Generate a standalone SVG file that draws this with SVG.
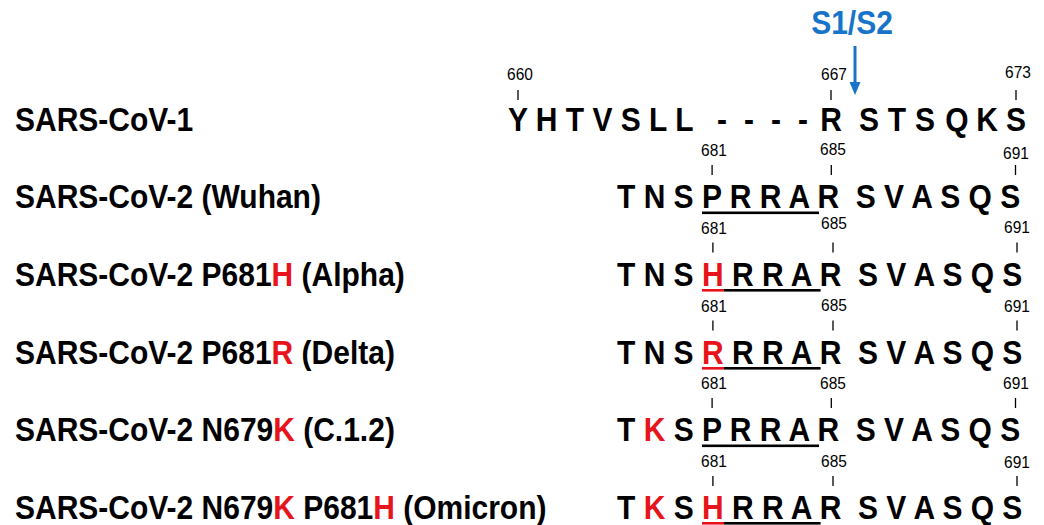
<svg xmlns="http://www.w3.org/2000/svg" width="1044" height="525" viewBox="0 0 1044 525">
<style>
.lbl{font-family:"Liberation Sans",Arial,Helvetica,sans-serif;font-weight:bold;font-size:30px;fill:#000}
.seq{font-family:"Liberation Sans",Arial,Helvetica,sans-serif;font-weight:bold;font-size:30px;fill:#000}
.num{font-family:"Liberation Sans",Arial,Helvetica,sans-serif;font-size:15.5px;fill:#000;text-anchor:middle}
.mid{text-anchor:middle}
.red{fill:#e8141c}
.tick{stroke:#000;stroke-width:1.3}
.ul{fill:#000}
.ulr{fill:#e8141c}
.s12{font-family:"Liberation Sans",Arial,Helvetica,sans-serif;font-weight:bold;font-size:30px;fill:#1874c8;text-anchor:middle}
</style>
<rect width="1044" height="525" fill="#fff"/>

<g id="labels">
<text class="lbl" x="15" y="131" transform="matrix(1 0 0 1.1 0 -13.1)">SARS-CoV-1</text>
<text class="lbl" x="15" y="208.5" transform="matrix(1 0 0 1.1 0 -20.85)">SARS-CoV-2 (Wuhan)</text>
<text class="lbl" x="15" y="286" transform="matrix(1 0 0 1.1 0 -28.6)">SARS-CoV-2 P681<tspan class="red">H</tspan> (Alpha)</text>
<text class="lbl" x="15" y="364" transform="matrix(1 0 0 1.1 0 -36.4)">SARS-CoV-2 P681<tspan class="red">R</tspan> (Delta)</text>
<text class="lbl" x="15" y="441.5" transform="matrix(1 0 0 1.1 0 -44.15)">SARS-CoV-2 N679<tspan class="red">K</tspan> (C.1.2)</text>
<text class="lbl" x="15" y="519" transform="matrix(1 0 0 1.1 0 -51.9)">SARS-CoV-2 N679<tspan class="red">K</tspan> P681<tspan class="red">H</tspan> (Omicron)</text>
</g>

<g id="s1s2">
<text class="s12" x="852" y="34" transform="matrix(1 0 0 1.1 0 -3.4)">S1/S2</text>
</g>

<g id="row1">
<text class="num" x="520" y="80.5" transform="matrix(1 0 0 1.1 0 -8.05)">660</text>
<text class="num" x="834" y="80.5" transform="matrix(1 0 0 1.1 0 -8.05)">667</text>
<text class="num" x="1018" y="78" transform="matrix(1 0 0 1.1 0 -7.8)">673</text>
<line class="tick" x1="518" y1="90" x2="518" y2="100"/>
<line class="tick" x1="831" y1="90" x2="831" y2="100"/>
<line class="tick" x1="1016" y1="90" x2="1016" y2="100"/>
<g transform="matrix(1 0 0 1.1 0 -13.1)">
<text class="seq" x="508" y="131" xml:space="preserve">Y H T V S L L</text>
<text class="seq mid" x="722 749 776 803 831 869 897 925 957 987 1016" y="131">----RSTSQKS</text>
</g>
</g>

<g id="row2">
<text class="num" x="714" y="156.5" transform="matrix(1 0 0 1.1 0 -15.65)">681</text>
<text class="num" x="833" y="155.5" transform="matrix(1 0 0 1.1 0 -15.55)">685</text>
<text class="num" x="1016" y="159.5" transform="matrix(1 0 0 1.1 0 -15.95)">691</text>
<line class="tick" x1="712.1" y1="165" x2="712.1" y2="175"/>
<line class="tick" x1="831.3" y1="165" x2="831.3" y2="175"/>
<line class="tick" x1="1015.5" y1="165" x2="1015.5" y2="175"/>
<text class="seq" x="617" y="208.5" xml:space="preserve" transform="matrix(1 0 0 1.1 0 -20.85)">T N S P R R A R  S V A S Q S</text>
<rect class="ul" x="702" y="211.5" width="117" height="2.6"/>
</g>

<g id="row3">
<text class="num" x="714" y="234.5" transform="matrix(1 0 0 1.1 0 -23.45)">681</text>
<text class="num" x="834" y="229.5" transform="matrix(1 0 0 1.1 0 -22.95)">685</text>
<text class="num" x="1017" y="233.5" transform="matrix(1 0 0 1.1 0 -23.35)">691</text>
<line class="tick" x1="712.9" y1="242.5" x2="712.9" y2="252.5"/>
<line class="tick" x1="833" y1="242.5" x2="833" y2="252.5"/>
<line class="tick" x1="1017" y1="242.5" x2="1017" y2="252.5"/>
<text class="seq" x="617" y="286" xml:space="preserve" transform="matrix(1 0 0 1.1 0 -28.6)">T N S <tspan class="red">H</tspan> R R A R  S V A S Q S</text>
<rect class="ulr" x="702" y="289" width="22" height="2.6"/>
<rect class="ul" x="724" y="289" width="96.6" height="2.6"/>
</g>

<g id="row4">
<text class="num" x="714" y="312.5" transform="matrix(1 0 0 1.1 0 -31.25)">681</text>
<text class="num" x="834" y="311.5" transform="matrix(1 0 0 1.1 0 -31.15)">685</text>
<text class="num" x="1017" y="312.5" transform="matrix(1 0 0 1.1 0 -31.25)">691</text>
<line class="tick" x1="712.9" y1="320.5" x2="712.9" y2="330.5"/>
<line class="tick" x1="833" y1="320.5" x2="833" y2="330.5"/>
<line class="tick" x1="1017" y1="320.5" x2="1017" y2="330.5"/>
<text class="seq" x="617" y="364" xml:space="preserve" transform="matrix(1 0 0 1.1 0 -36.4)">T N S <tspan class="red">R</tspan> R R A R  S V A S Q S</text>
<rect class="ulr" x="702" y="367" width="22" height="2.6"/>
<rect class="ul" x="724" y="367" width="96.6" height="2.6"/>
</g>

<g id="row5">
<text class="num" x="714" y="389.5" transform="matrix(1 0 0 1.1 0 -38.95)">681</text>
<text class="num" x="833" y="389.5" transform="matrix(1 0 0 1.1 0 -38.95)">685</text>
<text class="num" x="1016" y="389.5" transform="matrix(1 0 0 1.1 0 -38.95)">691</text>
<line class="tick" x1="712.1" y1="398" x2="712.1" y2="408"/>
<line class="tick" x1="831.3" y1="398" x2="831.3" y2="408"/>
<line class="tick" x1="1015.5" y1="398" x2="1015.5" y2="408"/>
<text class="seq" x="617" y="441.5" xml:space="preserve" transform="matrix(1 0 0 1.1 0 -44.15)">T <tspan class="red">K</tspan> S P R R A R  S V A S Q S</text>
<rect class="ul" x="702" y="444.5" width="117" height="2.6"/>
</g>

<g id="row6">
<text class="num" x="714" y="467.5" transform="matrix(1 0 0 1.1 0 -46.75)">681</text>
<text class="num" x="834" y="467.5" transform="matrix(1 0 0 1.1 0 -46.75)">685</text>
<text class="num" x="1017" y="468.5" transform="matrix(1 0 0 1.1 0 -46.85)">691</text>
<line class="tick" x1="712.9" y1="476" x2="712.9" y2="486"/>
<line class="tick" x1="833" y1="476" x2="833" y2="486"/>
<line class="tick" x1="1017" y1="476" x2="1017" y2="486"/>
<text class="seq" x="617" y="519" xml:space="preserve" transform="matrix(1 0 0 1.1 0 -51.9)">T <tspan class="red">K</tspan> S <tspan class="red">H</tspan> R R A R  S V A S Q S</text>
<rect class="ulr" x="702" y="522" width="22" height="2.6"/>
<rect class="ul" x="724" y="522" width="96.6" height="2.6"/>
</g>

<g id="connectors">
<line x1="855" y1="46" x2="855" y2="84" stroke="#1874c8" stroke-width="3"/>
<polygon points="849.5,82 860.5,82 855,95" fill="#1874c8"/>
</g>
</svg>
